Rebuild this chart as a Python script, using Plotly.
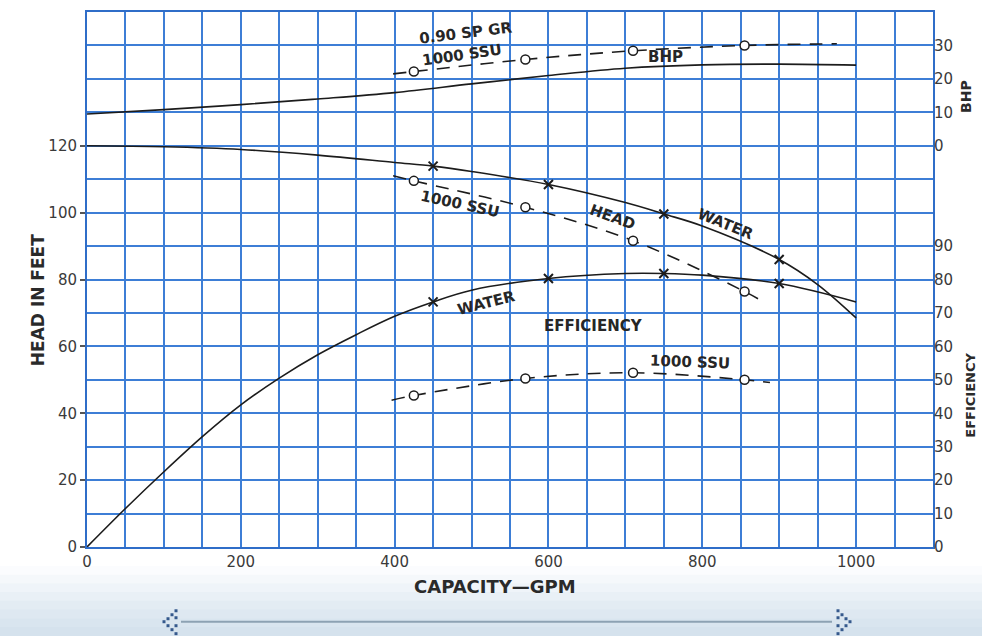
import plotly.graph_objects as go

# ---- pump performance data -------------------------------------------------
# Head, water (ft) vs capacity (GPM)
head_water_q = [0, 100, 200, 300, 400, 450, 500, 600, 700, 750, 800, 900, 950, 1000]
head_water = [120, 119.7, 118.9, 117.2, 115.0, 113.9, 112.3, 108.4, 103.0, 99.6, 96.0, 86.0, 78.5, 68.5]
head_water_mark_q = [450, 600, 750, 900]
head_water_mark = [113.9, 108.4, 99.6, 86.0]

# Head, 1000 SSU oil (ft)
head_ssu_q = [398, 425, 570, 710, 855, 882]
head_ssu = [111.0, 109.5, 101.6, 91.6, 76.4, 73.0]
head_ssu_mark_q = [425, 570, 710, 855]
head_ssu_mark = [109.5, 101.6, 91.6, 76.4]

# Efficiency, water (%)
eff_water_q = [0, 50, 100, 150, 200, 250, 300, 350, 400, 450, 500, 600, 700, 750, 800, 900, 1000]
eff_water = [0, 11.5, 22.5, 33.0, 42.5, 50.5, 57.5, 63.5, 69.0, 73.3, 76.8, 80.3, 81.8, 81.8, 81.3, 78.8, 73.3]
eff_water_mark_q = [450, 600, 750, 900]
eff_water_mark = [73.3, 80.3, 81.8, 78.8]

# Efficiency, 1000 SSU oil (%)
eff_ssu_q = [396, 425, 570, 710, 855, 888]
eff_ssu = [43.9, 45.3, 50.4, 52.1, 50.0, 49.2]
eff_ssu_mark_q = [425, 570, 710, 855]
eff_ssu_mark = [45.3, 50.4, 52.1, 50.0]

# Brake horsepower, water
bhp_water_q = [0, 100, 200, 300, 400, 500, 600, 700, 800, 900, 1000]
bhp_water = [9.5, 10.8, 12.3, 14.0, 15.9, 18.5, 21.0, 23.2, 24.2, 24.4, 24.1]

# Brake horsepower, 1000 SSU oil at 0.90 specific gravity
bhp_ssu_q = [398, 425, 570, 710, 855, 975]
bhp_ssu = [21.5, 22.2, 25.8, 28.4, 30.0, 30.5]
bhp_ssu_mark_q = [425, 570, 710, 855]
bhp_ssu_mark = [22.2, 25.8, 28.4, 30.0]

# axis tick labels
x_ticks = [0, 200, 400, 600, 800, 1000]
head_ticks = [0, 20, 40, 60, 80, 100, 120]
bhp_ticks = [0, 10, 20, 30]
eff_ticks = [0, 10, 20, 30, 40, 50, 60, 70, 80, 90]

# ---- styling ---------------------------------------------------------------
INK = "#1c1c1c"
GRID = "#3d7ed6"
FRAME = "#2f6dc8"
TICK_FONT = dict(family="DejaVu Sans", size=15, color="#3a3a3a")
LABEL_FONT = dict(family="DejaVu Sans", size=15, color="#262626", weight="bold")
DASH = "13px,9px"

fig = go.Figure()


def curve(q, v, axis, dash=None):
    fig.add_trace(go.Scatter(
        x=q, y=v, yaxis=axis, mode="lines", line_shape="spline",
        line=dict(color=INK, width=1.6, dash=dash), hoverinfo="skip",
        showlegend=False))


def water_marks(q, v, axis):
    fig.add_trace(go.Scatter(
        x=q, y=v, yaxis=axis, mode="markers",
        marker=dict(symbol="x-thin", size=9, line=dict(color=INK, width=2)),
        showlegend=False))


def oil_marks(q, v, axis):
    fig.add_trace(go.Scatter(
        x=q, y=v, yaxis=axis, mode="markers",
        marker=dict(symbol="circle", size=9, color="white",
                    line=dict(color=INK, width=1.5)),
        showlegend=False))


curve(head_water_q, head_water, "y")
water_marks(head_water_mark_q, head_water_mark, "y")
curve(head_ssu_q, head_ssu, "y", DASH)
oil_marks(head_ssu_mark_q, head_ssu_mark, "y")

curve(eff_water_q, eff_water, "y3")
water_marks(eff_water_mark_q, eff_water_mark, "y3")
curve(eff_ssu_q, eff_ssu, "y3", DASH)
oil_marks(eff_ssu_mark_q, eff_ssu_mark, "y3")

curve(bhp_water_q, bhp_water, "y2")
curve(bhp_ssu_q, bhp_ssu, "y2", DASH)
oil_marks(bhp_ssu_mark_q, bhp_ssu_mark, "y2")

# ---- curve labels ----------------------------------------------------------
labels = [
    ("0.90 SP GR", 493, 33.7, "y2", -7),
    ("1000 SSU", 488, 27.1, "y2", -8),
    ("BHP", 752, 26.5, "y2", 0),
    ("1000 SSU", 485, 102.7, "y", 12),
    ("HEAD", 683, 98.6, "y", 20),
    ("WATER", 830, 96.5, "y", 22),
    ("WATER", 519, 73.0, "y3", -14),
    ("EFFICIENCY", 658, 66.1, "y3", 0),
    ("1000 SSU", 784, 55.4, "y3", 2),
]
for text, x, y, ref, ang in labels:
    fig.add_annotation(x=x, y=y, xref="x", yref=ref, text=text, showarrow=False,
                       textangle=ang, font=LABEL_FONT,
                       xanchor="center", yanchor="middle")

# axis titles
fig.add_annotation(x=-0.057, y=0.461, xref="paper", yref="paper",
                   text="<b>HEAD IN FEET</b>", textangle=-90, showarrow=False,
                   font=dict(family="DejaVu Sans", size=17, color="#2a2a2a"),
                   xanchor="center", yanchor="middle")
fig.add_annotation(x=0.482, y=-0.074, xref="paper", yref="paper",
                   text="<b>CAPACITY\u2014GPM</b>", showarrow=False,
                   font=dict(family="DejaVu Sans", size=18, color="#2a2a2a"),
                   xanchor="center", yanchor="middle")
fig.add_annotation(x=1.039, y=0.843, xref="paper", yref="paper",
                   text="<b>BHP</b>", textangle=-90, showarrow=False,
                   font=dict(family="DejaVu Sans", size=14, color="#2a2a2a"),
                   xanchor="center", yanchor="middle")
fig.add_annotation(x=1.045, y=0.283, xref="paper", yref="paper",
                   text="<b>EFFICIENCY</b>", textangle=-90, showarrow=False,
                   font=dict(family="DejaVu Sans", size=13, color="#2a2a2a"),
                   xanchor="center", yanchor="middle")

# ---- page footer: soft tinted band with a scrub bar -------------------------
PX_L, PX_R, PX_B, PX_T = 87, 933, 547, 10


def px_x(px):
    return (px - PX_L) / (PX_R - PX_L)


def px_y(py):
    return (PX_B - py) / (PX_B - PX_T)


band_cols = ["#fbfcfe", "#f5f8fb", "#eff4f9", "#e9f0f6", "#e3ecf3",
             "#dee8f1", "#d9e5ef", "#d5e2ed"]
top = 566
step = (636 - top) / len(band_cols)
for i, c in enumerate(band_cols):
    fig.add_shape(type="rect", xref="paper", yref="paper", layer="below",
                  x0=px_x(0), x1=px_x(982),
                  y0=px_y(top + (i + 1) * step + 0.5), y1=px_y(top + i * step),
                  line_width=0, fillcolor=c)

fig.add_shape(type="line", xref="paper", yref="paper",
              x0=px_x(181), x1=px_x(832), y0=px_y(622), y1=px_y(622),
              line=dict(color="#8da2b3", width=2))

chevron = [(176, 611), (172, 615), (168, 619), (164, 622), (168, 626),
           (172, 630), (176, 634), (176, 618), (176, 626)]
for cx, cy in chevron:
    for gx in (cx, 1014 - cx):
        fig.add_shape(type="rect", xref="paper", yref="paper",
                      x0=px_x(gx - 1.5), x1=px_x(gx + 1.5),
                      y0=px_y(cy + 1.5), y1=px_y(cy - 1.5),
                      line_width=0, fillcolor="#35598c")

# ---- axes ------------------------------------------------------------------
fig.update_layout(
    width=982, height=636,
    margin=dict(l=PX_L, r=982 - PX_R, t=PX_T, b=636 - PX_B),
    paper_bgcolor="white", plot_bgcolor="white",
    showlegend=False,
    xaxis=dict(
        range=[0, 1100], tickvals=x_ticks, ticks="", tickfont=TICK_FONT,
        showgrid=True, gridcolor=GRID, gridwidth=1.6,
        minor=dict(dtick=50, tick0=0, showgrid=True, gridcolor=GRID, gridwidth=1.6),
        showline=True, linecolor=FRAME, linewidth=2, mirror=True,
        zeroline=False, fixedrange=True,
    ),
    yaxis=dict(
        range=[0, 160], tickvals=head_ticks, ticks="outside", ticklen=5,
        tickwidth=1.5, tickcolor="#555555", tickfont=TICK_FONT,
        showgrid=True, gridcolor=GRID, gridwidth=1.6,
        minor=dict(dtick=10, tick0=0, showgrid=True, gridcolor=GRID, gridwidth=1.6),
        showline=True, linecolor=FRAME, linewidth=2, mirror=True,
        zeroline=False, fixedrange=True,
    ),
    yaxis2=dict(
        overlaying="y", side="right", range=[-120, 40], tickvals=bhp_ticks,
        ticks="", ticklen=0, tickfont=TICK_FONT, showgrid=False, zeroline=False,
        showline=False, fixedrange=True,
    ),
    yaxis3=dict(
        overlaying="y", side="right", range=[0, 160], tickvals=eff_ticks,
        ticks="", ticklen=0, tickfont=TICK_FONT, showgrid=False, zeroline=False,
        showline=False, fixedrange=True,
    ),
)

fig.write_html("out.html")
